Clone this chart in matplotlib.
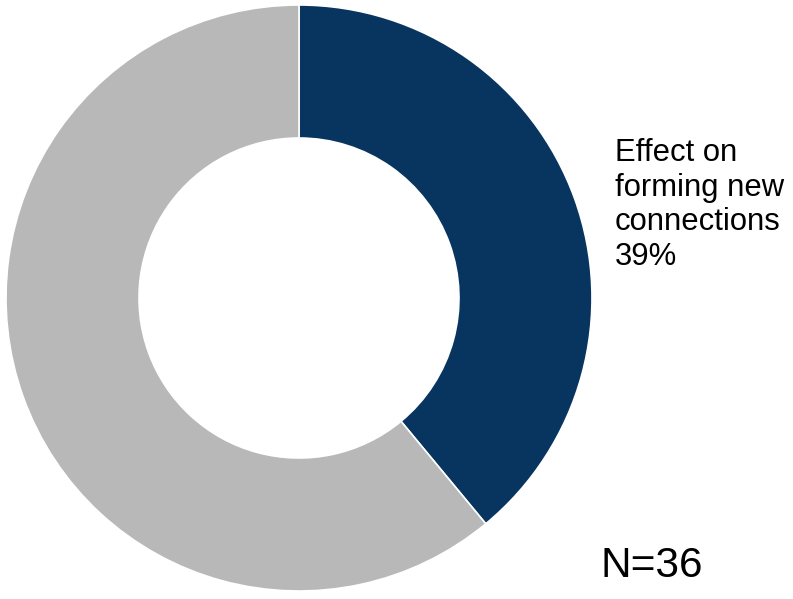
import matplotlib
matplotlib.use("Agg")
import matplotlib.pyplot as plt

plt.rcParams['font.family'] = ['Liberation Sans', 'DejaVu Sans']

# Share of respondents
categories = ["Effect on forming new connections", "Other"]
shares = [39, 61]
colors = ["#08355F", "#B8B8B8"]
sample_size = 36

W, H = 793, 599
fig = plt.figure(figsize=(W / 100, H / 100), dpi=100)
ax = fig.add_axes([0, 0, 1, 1])

outer_r = 293
ring_w = 133
ax.pie(shares, colors=colors, startangle=90, counterclock=False,
       radius=outer_r, center=(299, H - 298),
       wedgeprops=dict(width=ring_w, edgecolor="white", linewidth=1.2))
ax.set_xlim(0, W)
ax.set_ylim(0, H)
ax.set_aspect("equal")
ax.axis("off")

fig.text(615 / W, 1 - 138 / H,
         f"Effect on\nforming new\nconnections\n{shares[0]}%",
         ha="left", va="top", fontsize=22.3, linespacing=1.2, color="black")
fig.text(601 / W, 1 - 577 / H, f"N={sample_size}",
         ha="left", va="baseline", fontsize=30.5, color="black")

fig.savefig("out.png", dpi=100)
